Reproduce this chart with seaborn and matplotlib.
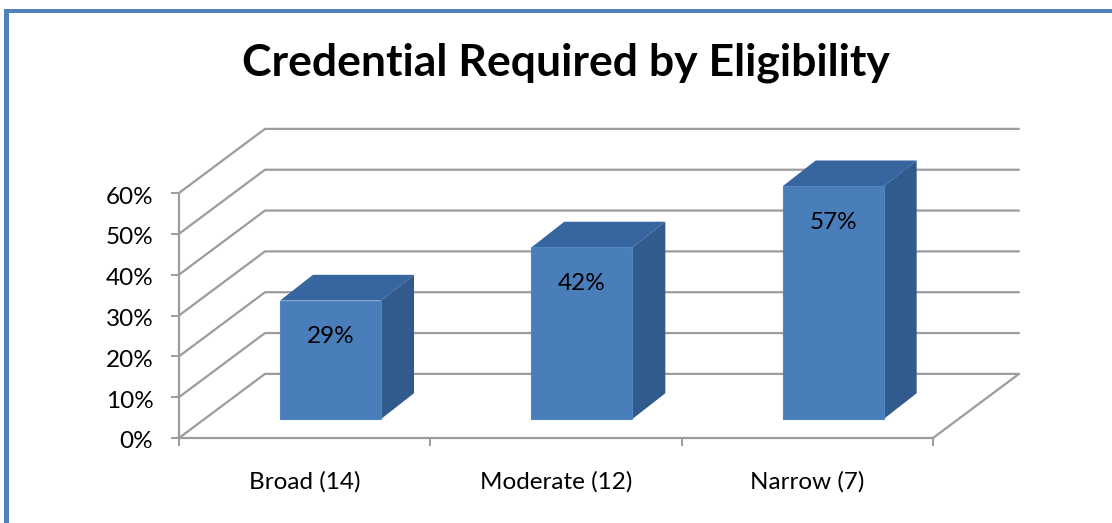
import matplotlib
matplotlib.use("Agg")
import matplotlib.pyplot as plt
from matplotlib.patches import Rectangle
from matplotlib.transforms import ScaledTranslation
import seaborn as sns

# data
categories = ["Broad (14)", "Moderate (12)", "Narrow (7)"]
values = [29, 42, 57]
y_ticks = [0, 10, 20, 30, 40, 50, 60]

# fake 3d sizes, in data units
depth_x = 0.342
depth_y = 15.7
bar_dx = 0.131
bar_dy = 6.3
base = 4.66
bar_w = 0.402

sns.set_theme(style="white")
plt.rcParams['font.family'] = ['Lato', 'DejaVu Sans']

W, H = 1112, 523
fig = plt.figure(figsize=(W / 100, H / 100), dpi=100)
ax = fig.add_axes([179 / W, (H - 438) / H, 754 / W, 245 / H])

grey = '#9c9c9c'
sns.barplot(x=categories, y=values, bottom=base, width=bar_w, color='#4a7ebb', saturation=1,
            edgecolor='#4f86c6', linewidth=0.8, zorder=5, clip_on=False, ax=ax)
ax.set_xlim(-0.603, 2.397)
ax.set_ylim(0, 60)

# back wall and side wall lines
x0, x1 = ax.get_xlim()
for v in y_ticks:
    ax.plot([x0, x0 + depth_x, x1 + depth_x], [v, v + depth_y, v + depth_y], color=grey, lw=1.6, clip_on=False, zorder=1)
ax.plot([x1, x1 + depth_x], [0, depth_y], color=grey, lw=1.6, clip_on=False, zorder=1)

# top and side faces + labels
for i, v in enumerate(values):
    left = i - bar_w / 2
    right = i + bar_w / 2
    top = v + base
    ax.fill([left, left + bar_dx, right + bar_dx, right], [top, top + bar_dy, top + bar_dy, top],
            color='#37659f', lw=0, clip_on=False, zorder=4)
    ax.fill([right, right + bar_dx, right + bar_dx, right], [base, base + bar_dy, top + bar_dy, top],
            color='#315b8c', lw=0, clip_on=False, zorder=4)
    ax.text(i, v + base - 8.9, str(v) + '%', ha='center', va='center', fontsize=17.5, color='black', zorder=6)

sns.despine(ax=ax)
for s in ['left', 'bottom']:
    ax.spines[s].set_color(grey)
    ax.spines[s].set_linewidth(1.6)

ax.set_yticks(y_ticks)
ax.set_yticklabels([str(v) + '%' for v in y_ticks], fontsize=17.5, color='black')
ax.tick_params(axis='y', left=True, length=6, width=1.4, color=grey, pad=12.5)
for lab in ax.get_yticklabels():
    lab.set_transform(lab.get_transform() + ScaledTranslation(0, -2 / 100, fig.dpi_scale_trans))
# categories sit between the tick marks, bars are pushed back a bit
ax.set_xticks([i - 0.103 for i in range(3)])
ax.set_xticklabels(categories, fontsize=17.5, color='black')
ax.set_xticks([x0 + i for i in range(4)], minor=True)
ax.tick_params(axis='x', which='major', bottom=False, length=0, pad=24)
ax.tick_params(axis='x', which='minor', bottom=True, length=6, width=1.4, color=grey)

fig.text(566 / W, 1 - 63 / H, 'Credential Required by Eligibility', ha='center', va='center',
         fontsize=32, fontweight='bold', color='black')

# frame of the text box
blue = '#4f81bd'
fig.add_artist(Rectangle((4 / W, 0), 5.5 / W, 1 - 9 / H, transform=fig.transFigure, color=blue, lw=0))
fig.add_artist(Rectangle((4 / W, 1 - 12.5 / H), 1 - 4 / W, 3.5 / H, transform=fig.transFigure, color=blue, lw=0))

fig.savefig('out.png', dpi=100)
